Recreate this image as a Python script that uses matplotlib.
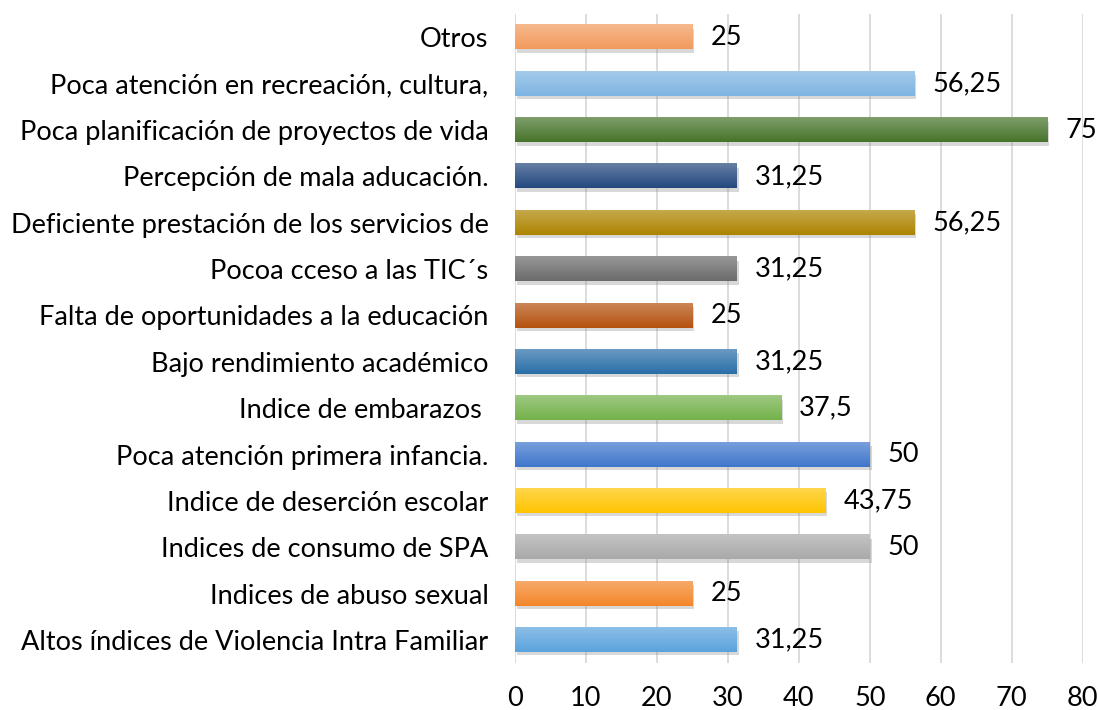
import numpy as np
import matplotlib
matplotlib.use("Agg")
import matplotlib.pyplot as plt
import matplotlib.colors as mcolors
import matplotlib.patheffects as pe

plt.rcParams['font.family'] = ['Lato', 'DejaVu Sans']

# bottom to top, same order as the chart
categories = ["Altos índices de Violencia Intra Familiar",
              "Indices de abuso sexual",
              "Indices de consumo de SPA",
              "Indice de deserción escolar",
              "Poca atención primera infancia.",
              "Indice de embarazos ",
              "Bajo rendimiento académico",
              "Falta de oportunidades a la educación",
              "Pocoa cceso a las TIC´s",
              "Deficiente prestación de los servicios de",
              "Percepción de mala aducación.",
              "Poca planificación de proyectos de vida",
              "Poca atención en recreación, cultura,",
              "Otros"]
values = [31.25, 25, 50, 43.75, 50, 37.5, 31.25, 25, 31.25, 56.25, 31.25, 75, 56.25, 25]
bar_colors = ["#5BA3DD", "#F4862A", "#A9A9A9", "#FFC400", "#3F76CC", "#74B14B",
              "#2A6FA8", "#B5520F", "#6B6B6B", "#AD8400", "#24497F", "#47742B",
              "#7EB4E2", "#F29A5C"]

fig = plt.figure(figsize=(10.98, 7.1), dpi=100)
ax = fig.add_axes([0.469, 0.066, 0.517, 0.914])

y = np.arange(len(categories))
bar_h = 0.52
bars = ax.barh(y, values, height=bar_h, color=bar_colors, zorder=2,
               path_effects=[pe.SimplePatchShadow(offset=(1.5, -2.5), alpha=0.3, shadow_rgbFace='gray'),
                             pe.Normal()])

# gradient fill: lighter at top, base colour at bottom
for rect, c in zip(bars, bar_colors):
    base = np.array(mcolors.to_rgb(c))
    light = base + (1 - base) * 0.30
    t = np.linspace(0, 1, 50)[:, None]
    grad = light * (1 - t) + base * t
    x0, y0 = rect.get_x(), rect.get_y()
    w, h = rect.get_width(), rect.get_height()
    ax.imshow(grad[:, None, :], extent=[x0, x0 + w, y0, y0 + h], origin='upper',
              aspect='auto', zorder=3, interpolation='bilinear')

for yi, v in zip(y, values):
    txt = ("%g" % v).replace(".", ",")
    ax.annotate(txt, (v, yi), xytext=(13, 0), textcoords='offset points',
                va='center', ha='left', fontsize=19.5, color='black')

ax.set_xlim(0, 80)
ax.set_ylim(-0.5, len(categories) - 0.5)
ax.set_xticks(range(0, 81, 10))
ax.set_yticks(y)
ax.set_yticklabels(categories)
ax.tick_params(axis='both', length=0, labelsize=19.5, colors='black')
ax.tick_params(axis='y', pad=19)
ax.tick_params(axis='x', pad=16.5)
ax.grid(axis='x', color='#d9d9d9', linewidth=1.3, zorder=0)
ax.set_axisbelow(True)
for s in ax.spines.values():
    s.set_visible(False)

fig.savefig("out.png", dpi=100)
